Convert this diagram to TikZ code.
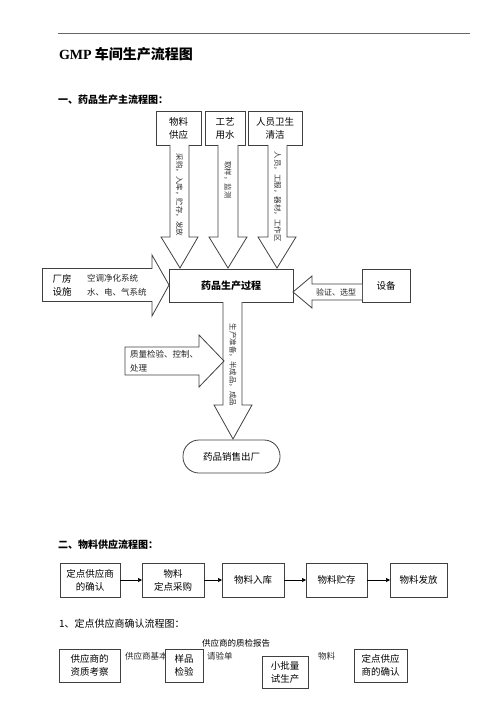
\documentclass[tikz,border=0pt]{standalone}
\usepackage{fontspec}
\setmainfont{Noto Sans CJK SC}
\newfontfamily\latinserif{Liberation Serif}
\usetikzlibrary{arrows.meta}
\begin{document}
\begin{tikzpicture}[x=1pt,y=-1pt,
  every node/.style={inner sep=0pt,outer sep=0pt},
  bx/.style={draw=black!75,line width=0.8pt,fill=white,align=center,font=\fontsize{9.5}{13}\selectfont},
  blk/.style={draw=black!75,line width=0.8pt,fill=white,line join=miter},
  vt/.style={rotate=-90,font=\fontsize{7.5}{9}\selectfont,text=black!80},
  lbl/.style={font=\fontsize{8.5}{14}\selectfont,align=left,anchor=west,text=black!85},
  flow/.style={draw=black,line width=0.7pt,-{Triangle[length=4pt,width=4pt]}},
  head/.style={font=\fontsize{10}{12}\selectfont\bfseries,anchor=west}
]
\useasboundingbox (0,0) rectangle (500,708);
\draw[black!60,line width=0.6pt] (58,33) -- (470,33);

\node[anchor=west,font=\fontsize{14}{16}\selectfont\bfseries] (title) at (59,54) {{\latinserif GMP} 车间生产流程图};
\node[head] (h1) at (58,100) {一、药品生产主流程图：};

% top boxes
\node[bx,minimum width=45pt,minimum height=34pt] (wl) at (178.5,128) {物料\\供应};
\node[bx,minimum width=40pt,minimum height=34pt] (gy) at (225,128) {工艺\\用水};
\node[bx,minimum width=54pt,minimum height=34pt] (ry) at (275,128) {人员卫生\\清洁};

% main box
\node[bx,minimum width=124pt,minimum height=33pt,font=\fontsize{10}{12}\selectfont\bfseries] (main) at (231,285.5) {药品生产过程};

% down arrows from top
\draw[blk] (wl.south -| 170,0) -- (170,237) -- (161,237) -- (180,268) -- (198,237) -- (189,237) -- (189,145);
\draw[blk] (218,145) -- (218,237) -- (209,237) -- (228,268) -- (247,237) -- (238,237) -- (238,145);
\draw[blk] (268,145) -- (268,237) -- (258,237) -- (277,268) -- (296,237) -- (287,237) -- (287,145);
\node[vt] (t1) at (179.5,195) {采购，入库，贮存，发放};
\node[vt] (t2) at (228,180) {取样，监测};
\node[vt] (t3) at (277.5,197) {人员，工服，器材，工作区};

% left side
\node[bx,minimum width=40pt,minimum height=33pt] (cf) at (62,285) {厂房\\设施};
\draw[blk] (cf.north east) -- (152,268.5) -- (152,255) -- (main.west |- 0,285) -- (152,316) -- (152,301.5) -- (cf.south east);
\node[lbl] (t4) at (87,285) {空调净化系统\\水、电、气系统};

% right side
\node[bx,minimum width=48pt,minimum height=33pt] (sb) at (386,285.5) {设备};
\draw[blk] (sb.west |- 0,284) -- (312,284) -- (312,276) -- (main.east |- 0,292) -- (312,308) -- (312,300) -- (sb.west |- 0,300);
\node[lbl,font=\fontsize{8}{10}\selectfont] (t5) at (316,292) {验证、选型};

% down arrow to sale
\node[draw=black!75,line width=0.8pt,rounded corners=16pt,minimum width=97pt,minimum height=33pt,font=\fontsize{9.5}{12}\selectfont] (sale) at (231.5,456.5) {药品销售出厂};
\draw[blk] (223,302) -- (223,405) -- (214,405) -- (233,439) -- (252,405) -- (242,405) -- (242,302);
\node[vt] (t6) at (233,365) {生产准备，半成品，成品};

% quality arrow
\draw[blk] (125,347) -- (199,347) -- (199,335) -- (224,361) -- (199,387) -- (199,375) -- (125,375) -- cycle;
\node[lbl] (t7) at (130,361) {质量检验、控制、\\处理};

% section 2
\node[head] (h2) at (58,545) {二、物料供应流程图：};
\node[bx,minimum width=60pt,minimum height=34pt] (s1) at (90,580) {定点供应商\\的确认};
\node[bx,minimum width=62pt,minimum height=34pt] (s2) at (173,580) {物料\\定点采购};
\node[bx,minimum width=62pt,minimum height=34pt] (s3) at (253,580) {物料入库};
\node[bx,minimum width=61pt,minimum height=34pt] (s4) at (336.5,580) {物料贮存};
\node[bx,minimum width=57pt,minimum height=34pt] (s5) at (418.5,580) {物料发放};
\draw[flow] (s1) -- (s2);
\draw[flow] (s2) -- (s3);
\draw[flow] (s3) -- (s4);
\draw[flow] (s4) -- (s5);

% section 1
\node[anchor=west,font=\fontsize{10}{12}\selectfont] (h3) at (59,624) {1、定点供应商确认流程图：};
\node[font=\fontsize{8.5}{10}\selectfont] (q1) at (236,643) {供应商的质检报告};
\node[bx,minimum width=61pt,minimum height=33pt] (a1) at (89.5,665.5) {供应商的\\资质考察};
\node[lbl] (q2) at (125,656) {供应商基本};
\node[bx,minimum width=38pt,minimum height=33pt] (a2) at (184,665.5) {样品\\检验};
\node[lbl] (q3) at (207,656) {请验单};
\node[bx,minimum width=46pt,minimum height=32pt] (a3) at (285,672) {小批量\\试生产};
\node[lbl] (q4) at (318,656) {物料};
\node[bx,minimum width=53pt,minimum height=33pt] (a4) at (380.5,665.5) {定点供应\\商的确认};
\end{tikzpicture}
\end{document}
